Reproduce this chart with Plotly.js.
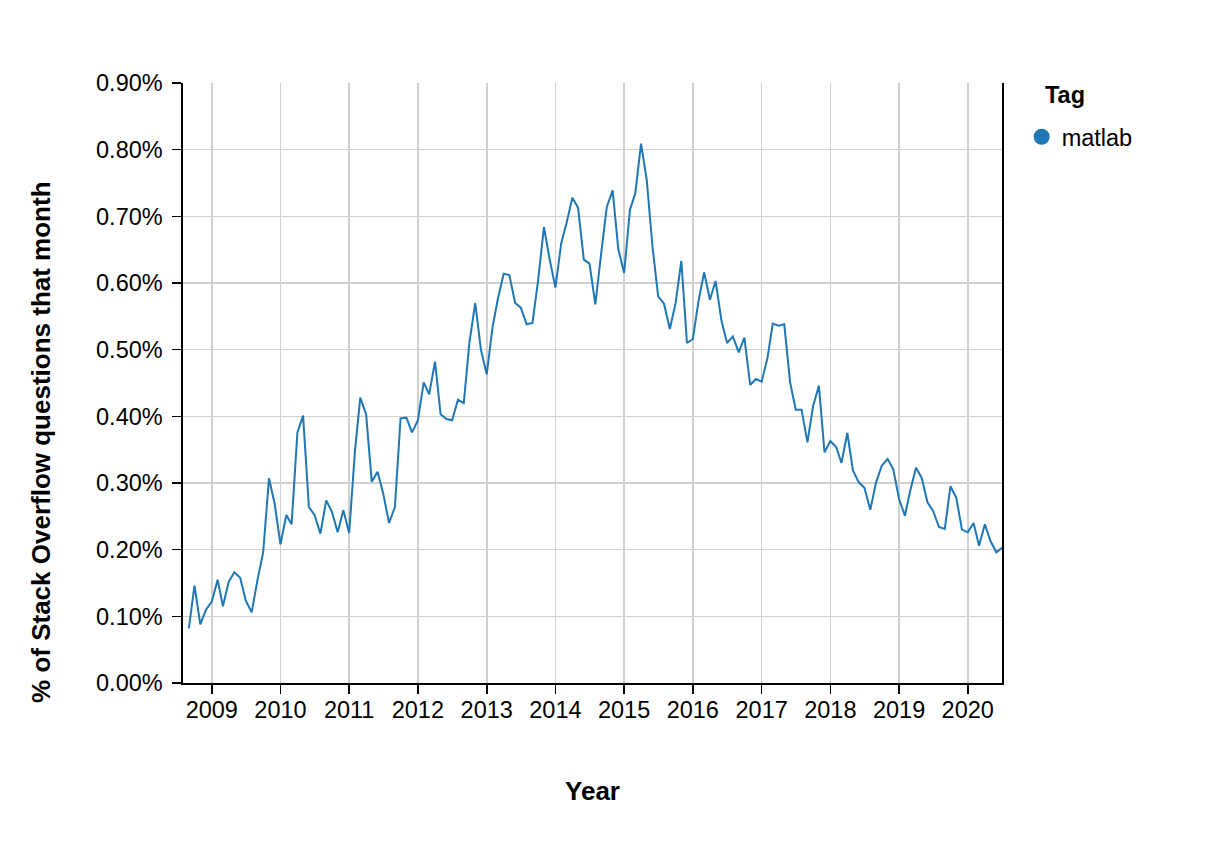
<!DOCTYPE html>
<html>
<head>
<meta charset="utf-8">
<script src="https://cdn.plot.ly/plotly-3.0.1.min.js"></script>
<style>html,body{margin:0;padding:0;background:#fff;}#chart{width:1208px;height:848px;}</style>
</head>
<body>
<div id="chart"></div>
<script>
// Share of Stack Overflow questions tagged "matlab", in percent, monthly
const tagName = 'matlab';
const years = [2008, 2009, 2010, 2011, 2012, 2013, 2014, 2015, 2016, 2017, 2018, 2019, 2020];
const firstMonth = {2008: 9}; // 2008 series starts in September; other years start in January
const v2008 = [0.082, 0.146, 0.088, 0.110];
const v2009 = [0.122, 0.155, 0.115, 0.152, 0.166, 0.158, 0.123, 0.106, 0.155, 0.196, 0.307, 0.269];
const v2010 = [0.208, 0.252, 0.238, 0.376, 0.401, 0.264, 0.252, 0.224, 0.274, 0.257, 0.226, 0.259];
const v2011 = [0.225, 0.349, 0.428, 0.403, 0.302, 0.317, 0.284, 0.240, 0.264, 0.397, 0.398, 0.376];
const v2012 = [0.394, 0.451, 0.433, 0.482, 0.403, 0.396, 0.394, 0.425, 0.420, 0.511, 0.570, 0.500];
const v2013 = [0.463, 0.534, 0.576, 0.614, 0.612, 0.570, 0.563, 0.538, 0.540, 0.604, 0.684, 0.636];
const v2014 = [0.593, 0.660, 0.690, 0.728, 0.713, 0.635, 0.629, 0.568, 0.644, 0.714, 0.739, 0.651];
const v2015 = [0.615, 0.710, 0.734, 0.809, 0.755, 0.654, 0.580, 0.569, 0.531, 0.569, 0.633, 0.510];
const v2016 = [0.516, 0.574, 0.616, 0.575, 0.603, 0.544, 0.510, 0.520, 0.496, 0.518, 0.447, 0.456];
const v2017 = [0.452, 0.488, 0.539, 0.536, 0.538, 0.451, 0.410, 0.410, 0.361, 0.415, 0.446, 0.346];
const v2018 = [0.363, 0.354, 0.330, 0.375, 0.319, 0.301, 0.293, 0.260, 0.301, 0.326, 0.336, 0.321];
const v2019 = [0.276, 0.251, 0.288, 0.323, 0.308, 0.271, 0.258, 0.234, 0.231, 0.295, 0.278, 0.230];
const v2020 = [0.226, 0.240, 0.206, 0.238, 0.213, 0.196, 0.203];
const yearValues = [v2008, v2009, v2010, v2011, v2012, v2013, v2014, v2015, v2016, v2017, v2018, v2019, v2020];
const yTickVals = [0, 0.1, 0.2, 0.3, 0.4, 0.5, 0.6, 0.7, 0.8, 0.9];
const yTickText = ['0.00%', '0.10%', '0.20%', '0.30%', '0.40%', '0.50%', '0.60%', '0.70%', '0.80%', '0.90%'];
const xRange = ['2008-08-01', '2020-07-01'];

const xs = [], ys = [];
years.forEach((yr, i) => {
  const m0 = firstMonth[yr] || 1;
  yearValues[i].forEach((v, j) => {
    const m = m0 + j;
    xs.push(yr + '-' + String(m).padStart(2, '0') + '-01');
    ys.push(v);
  });
});

const color = '#1f77b4';
const font = 'Liberation Sans, Arial, Helvetica, sans-serif';

const traces = [
  {x: xs, y: ys, type: 'scatter', mode: 'lines', line: {color: color, width: 2}, showlegend: false, name: tagName},
  {x: [null], y: [null], type: 'scatter', mode: 'markers', marker: {color: color, size: 19, symbol: 'circle'}, name: tagName, showlegend: true}
];

const layout = {
  width: 1208, height: 848,
  margin: {l: 183, r: 206, t: 83, b: 165},
  paper_bgcolor: '#fff', plot_bgcolor: '#fff',
  font: {family: font, size: 23.5, color: '#000'},
  xaxis: {
    type: 'date', range: xRange, tick0: '2009-01-01', dtick: 'M12', tickformat: '%Y',
    showgrid: true, gridcolor: '#d0d0d0', gridwidth: 1.6,
    showline: true, linecolor: '#000', linewidth: 1.6,
    ticks: 'outside', ticklen: 9, tickcolor: '#000', tickwidth: 1.6,
    ticklabelstandoff: -4,
    tickfont: {size: 23.5},
    zeroline: false,
    title: {text: '<b>Year</b>', font: {size: 26}, standoff: 60}
  },
  yaxis: {
    range: [0, 0.9], tickvals: yTickVals, ticktext: yTickText,
    showgrid: true, gridcolor: '#d0d0d0', gridwidth: 1.6,
    showline: true, mirror: true, linecolor: '#000', linewidth: 1.6,
    ticks: 'outside', ticklen: 9, tickcolor: '#000', tickwidth: 1.6,
    ticklabelstandoff: 5,
    tickfont: {size: 23.5},
    zeroline: false
  },
  annotations: [{
    text: '<b>% of Stack Overflow questions that month</b>',
    xref: 'paper', yref: 'paper', x: -0.1734, y: 0.4017,
    xanchor: 'center', yanchor: 'middle', textangle: -90,
    showarrow: false, font: {size: 26, family: font, color: '#000'}
  }, {
    text: '<b>Tag</b>',
    xref: 'paper', yref: 'paper', x: (1043 - 183) / 819, y: (683 - 95) / 600,
    xanchor: 'left', yanchor: 'middle',
    showarrow: false, font: {size: 23.5, family: font, color: '#000'}
  }],
  legend: {
    x: 1.024, y: 0.9467, xanchor: 'left', yanchor: 'top',
    font: {size: 23.5}, bgcolor: 'rgba(0,0,0,0)'
  },
  showlegend: true
};

Plotly.newPlot('chart', traces, layout, {displayModeBar: false, staticPlot: true});
</script>
</body>
</html>
